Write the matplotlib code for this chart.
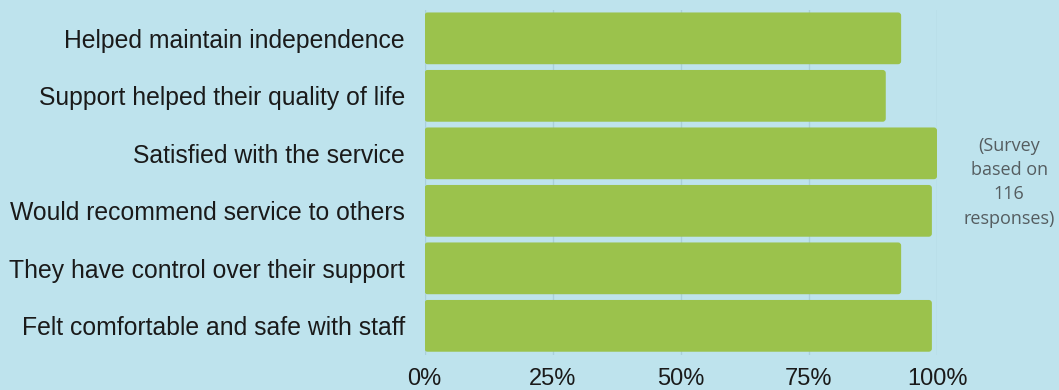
import matplotlib.pyplot as plt
from matplotlib.patches import FancyBboxPatch

# survey results, top to bottom
labels = [
    "Helped maintain independence",
    "Support helped their quality of life",
    "Satisfied with the service",
    "Would recommend service to others",
    "They have control over their support",
    "Felt comfortable and safe with staff",
]
values = [93, 90, 100, 99, 93, 99]
ticks = [0, 25, 50, 75, 100]
tick_labels = ["0%", "25%", "50%", "75%", "100%"]

BG = "#bee3ed"
GREEN = "#9bc24c"

fig = plt.figure(figsize=(10.59, 3.9), dpi=100, facecolor=BG)
ax = fig.add_axes([0.4009, 0.0908, 0.4839, 0.8846])
ax.set_facecolor(BG)

ypos = list(range(len(labels)))
bars = ax.barh(ypos, values, height=0.9, color=GREEN, zorder=2)

# swap the square bars for slightly rounded ones
px_x = 0.4839 * 1059 / 100          # pixels per x unit
px_y = 0.8846 * 390 / len(labels)   # pixels per y unit
for b in bars:
    x, y = b.get_x(), b.get_y()
    w, h = b.get_width(), b.get_height()
    b.set_visible(False)
    ax.add_patch(FancyBboxPatch((x, y), w, h, boxstyle="round,pad=0,rounding_size=0.6",
                                mutation_aspect=px_x / px_y, facecolor=GREEN,
                                edgecolor="none", zorder=2))

ax.set_xlim(0, 100)
ax.set_ylim(len(labels) - 0.5, -0.5)
ax.set_yticks(ypos)
ax.set_yticklabels(labels, fontsize=17.8, family="Liberation Sans", color="#1a1a1a")
ax.set_xticks(ticks)
ax.set_xticklabels(tick_labels, fontsize=17, family="Liberation Sans", color="#1a1a1a")
ax.tick_params(axis="y", length=0, pad=14)
ax.tick_params(axis="x", length=0, pad=10)

ax.grid(axis="x", color="#aacfd9", linewidth=1, zorder=1)
for s in ax.spines.values():
    s.set_visible(False)

fig.text(0.953, 0.533, "(Survey\nbased on\n116\nresponses)", ha="center", va="center",
         fontsize=13, family="Open Sans", color="#555d60", linespacing=1.45)

plt.savefig("out.png", dpi=100, facecolor=BG)
plt.close()
